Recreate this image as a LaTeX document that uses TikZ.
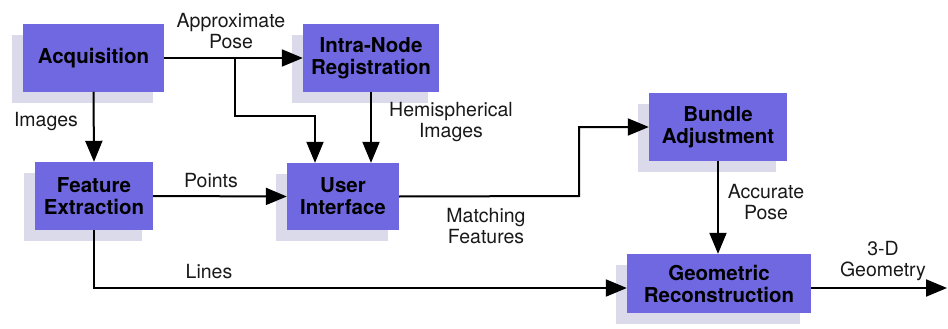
\documentclass[tikz,border=0pt]{standalone}
\usepackage{fontspec}
\setmainfont{TeX Gyre Heros}
\usetikzlibrary{arrows.meta,shadows}
\definecolor{boxfill}{RGB}{112,104,224}
\definecolor{shade}{RGB}{218,218,234}
\definecolor{lineshade}{RGB}{220,220,234}
\tikzset{
  stage/.style={draw=none, fill=boxfill, align=center, inner sep=0pt,
    font=\fontsize{20.5}{22}\selectfont\bfseries, text=black,
    drop shadow={shadow xshift=-11pt, shadow yshift=-11pt, fill=shade, opacity=1}},
  flow/.style={line width=2pt, -{Triangle[length=21pt,width=17pt]}},
  ghost/.style={line width=1.4pt, draw=lineshade, -{Triangle[length=17pt,width=13pt]}},
  lbl/.style={align=center, inner sep=0pt, font=\fontsize{19.5}{21.5}\selectfont, text=black!90}
}
\begin{document}
\begin{tikzpicture}[x=1pt,y=-1pt]
\useasboundingbox (0,0) rectangle (948,329);

% processing stages
\node[stage, minimum width=141pt, minimum height=67pt] (acq) at (93.5,58) {Acquisition};
\node[stage, minimum width=136pt, minimum height=68pt] (reg) at (371,58) {Intra-Node\\Registration};
\node[stage, minimum width=118pt, minimum height=68pt] (feat) at (94,196) {Feature\\Extraction};
\node[stage, minimum width=112pt, minimum height=67pt] (ui) at (343,196.5) {User\\Interface};
\node[stage, minimum width=138pt, minimum height=68pt] (bund) at (718,127) {Bundle\\Adjustment};
\node[stage, minimum width=184pt, minimum height=59pt] (geo) at (719,283.5) {Geometric\\Reconstruction};

% bend points and free end
\coordinate (split) at (235,58);
\coordinate (poseleg) at (315,116);
\coordinate (matchleg) at (579,196);
\coordinate (out) at (947,288);

% faint offset copies of the connectors
\begin{scope}[shift={(-12,11)}]
  \draw[ghost] (acq.east) -- (reg.west);
  \draw[ghost] (split) |- (poseleg) -- (poseleg |- ui.north);
  \draw[ghost] (acq.south) -- (feat.north);
  \draw[ghost] (reg.south) -- (reg.south |- ui.north);
  \draw[ghost] (feat.east) -- (ui.west);
  \draw[ghost] (ui.east) -- (matchleg) |- (bund.west);
  \draw[ghost] (bund.south) -- (bund.south |- geo.north);
  \draw[ghost] (feat.south) |- ([yshift=-4.5pt]geo.west);
  \draw[ghost] ([yshift=-4.5pt]geo.east) -- (out);
\end{scope}

% connectors
\draw[flow] (acq.east) -- (reg.west);
\draw[flow] (split) |- (poseleg) -- (poseleg |- ui.north);
\draw[flow] (acq.south) -- (feat.north);
\draw[flow] (reg.south) -- (reg.south |- ui.north);
\draw[flow] (feat.east) -- (ui.west);
\draw[flow] (ui.east) -- (matchleg) |- (bund.west);
\draw[flow] (bund.south) -- (bund.south |- geo.north);
\draw[flow] (feat.south) |- ([yshift=-4.5pt]geo.west);
\draw[flow] ([yshift=-4.5pt]geo.east) -- (out);

% connector labels
\node[lbl] (lpose) at (231,31) {Approximate\\Pose};
\node[lbl] (limg) at (46,122) {Images};
\node[lbl] (lhemi) at (451,122) {Hemispherical\\Images};
\node[lbl] (lpts) at (211,181) {Points};
\node[lbl] (lmatch) at (486,226) {Matching\\Features};
\node[lbl] (llines) at (209,272) {Lines};
\node[lbl] (lacc) at (766,202) {Accurate\\Pose};
\node[lbl] (lgeo) at (883,261) {3-D\\Geometry};
\end{tikzpicture}
\end{document}
